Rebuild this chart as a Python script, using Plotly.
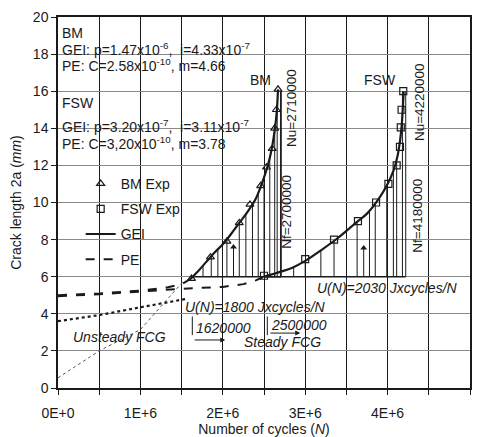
import numpy as np
import plotly.graph_objects as go

M = 1e6
# ---- data (N in millions of cycles, crack length 2a in mm) ----
bm_exp_N = [1.62, 1.85, 2.05, 2.20, 2.33, 2.46, 2.53, 2.60, 2.63, 2.65, 2.67]
bm_exp_a = [5.9, 7.05, 7.9, 8.9, 9.9, 10.9, 11.9, 12.9, 14.0, 15.0, 16.1]
bm_gei_N = [1.60, 1.70, 1.80, 1.90, 2.00, 2.10, 2.20, 2.30, 2.40, 2.48, 2.54, 2.59, 2.63, 2.655, 2.67]
bm_gei_a = [5.85, 6.3, 6.8, 7.3, 7.75, 8.3, 8.9, 9.5, 10.2, 11.1, 11.9, 12.8, 13.9, 14.9, 16.1]

fsw_exp_N = [2.50, 3.00, 3.35, 3.64, 3.86, 4.01, 4.11, 4.15, 4.16, 4.17, 4.19]
fsw_exp_a = [6.05, 6.95, 8.0, 9.0, 10.0, 11.0, 12.0, 13.0, 14.05, 15.0, 16.0]
fsw_gei_N = [2.50, 2.65, 2.85, 3.00, 3.20, 3.40, 3.60, 3.75, 3.90, 4.00, 4.07, 4.12, 4.15, 4.17, 4.185, 4.195]
fsw_gei_a = [6.0, 6.2, 6.5, 6.85, 7.45, 8.1, 8.85, 9.4, 10.25, 11.0, 11.7, 12.5, 13.3, 14.1, 15.1, 16.0]

pe_bm_N = [0, 0.5, 1.0, 1.3, 1.5, 1.6]
pe_bm_a = [5.0, 5.1, 5.25, 5.4, 5.6, 5.85]
pe_fsw_N = [0, 0.5, 1.0, 1.5, 2.0, 2.25, 2.4, 2.5]
pe_fsw_a = [4.95, 5.05, 5.2, 5.35, 5.45, 5.6, 5.8, 6.0]

dot_N = [0, 0.5, 1.0, 1.5, 1.55]
dot_a = [3.6, 3.93, 4.35, 4.75, 4.8]
thin_N = [0, 0.5, 1.0, 1.25, 1.52]
thin_a = [0.55, 2.0, 3.15, 4.4, 5.75]

bm_hatch_N = [1.62, 1.76, 1.86, 1.94, 2.05, 2.20, 2.28, 2.36, 2.43, 2.50, 2.57, 2.63, 2.66]
fsw_hatch_N = [2.50, 2.63, 2.86, 3.00, 3.19, 3.35, 3.63, 3.78, 3.85, 3.99, 4.07, 4.11]
base_a = 6.0
bm_Nf, bm_Nu = 2.70, 2.71
fsw_Nf, fsw_Nu = 4.18, 4.22
top_a = 16.0
ni_N = [2.13, 3.71]
ni_a = [7.6, 7.55]

x_ticks = [0, 1, 2, 3, 4, 5]
x_ticklabels = ["0E+0", "1E+6", "2E+6", "3E+6", "4E+6", "5E+6"]

INK = "#1a1a1a"
fig = go.Figure()

def vlines(xs, y0s, y1s):
    X, Y = [], []
    for x, a, b in zip(xs, y0s, y1s):
        X += [x * M, x * M, None]
        Y += [a, b, None]
    return X, Y

# hatch lines
hx = bm_hatch_N + [bm_Nf, bm_Nu]
hy1 = list(np.interp(bm_hatch_N, bm_gei_N, bm_gei_a)) + [top_a, top_a]
X, Y = vlines(hx, [base_a] * len(hx), hy1)
fx = fsw_hatch_N + [fsw_Nf, fsw_Nu]
fy1 = list(np.interp(fsw_hatch_N, fsw_gei_N, fsw_gei_a)) + [top_a, top_a]
X2, Y2 = vlines(fx, [base_a] * len(fx), fy1)
X3, Y3 = vlines(ni_N, [base_a] * 2, ni_a)
fig.add_trace(go.Scatter(x=X + X2 + X3, y=Y + Y2 + Y3, mode="lines",
                         line=dict(color=INK, width=1), showlegend=False, hoverinfo="skip"))
# base lines
fig.add_trace(go.Scatter(x=[bm_exp_N[0] * M, bm_Nu * M, None, fsw_exp_N[0] * M, fsw_Nu * M],
                         y=[base_a, base_a, None, base_a, base_a], mode="lines",
                         line=dict(color=INK, width=1.5), showlegend=False, hoverinfo="skip"))

# dotted lines
fig.add_trace(go.Scatter(x=[v * M for v in dot_N], y=dot_a, mode="lines",
                         line=dict(color=INK, width=2.2, dash="dot"), showlegend=False))
fig.add_trace(go.Scatter(x=[v * M for v in thin_N], y=thin_a, mode="lines",
                         line=dict(color="#555", width=1, dash="dot"), showlegend=False))

# PE
fig.add_trace(go.Scatter(x=[v * M for v in pe_bm_N], y=pe_bm_a, mode="lines", name="PE",
                         legendgroup="d", legendrank=4,
                         line=dict(color=INK, width=2, dash="dash")))
fig.add_trace(go.Scatter(x=[v * M for v in pe_fsw_N], y=pe_fsw_a, mode="lines", showlegend=False,
                         line=dict(color=INK, width=2, dash="dash")))
# GEI
fig.add_trace(go.Scatter(x=[v * M for v in bm_gei_N], y=bm_gei_a, mode="lines", name="GEI",
                         legendgroup="c", legendrank=3, line_shape="spline",
                         line=dict(color=INK, width=2.2)))
fig.add_trace(go.Scatter(x=[v * M for v in fsw_gei_N], y=fsw_gei_a, mode="lines", showlegend=False,
                         line_shape="spline", line=dict(color=INK, width=2.2)))
# Experimental
fig.add_trace(go.Scatter(x=[v * M for v in bm_exp_N], y=bm_exp_a, mode="markers", name="BM Exp",
                         legendgroup="a", legendrank=1,
                         marker=dict(symbol="triangle-up-open", size=7, color=INK, line=dict(width=1.2))))
fig.add_trace(go.Scatter(x=[v * M for v in fsw_exp_N], y=fsw_exp_a, mode="markers", name="FSW Exp",
                         legendgroup="b", legendrank=2,
                         marker=dict(symbol="square-open", size=7, color=INK, line=dict(width=1.2))))
# initiation markers
fig.add_trace(go.Scatter(x=[v * M for v in ni_N], y=ni_a, mode="markers", showlegend=False,
                         marker=dict(symbol="triangle-up", size=6, color=INK)))

F = "Liberation Sans, Arial, sans-serif"
ann = []
def txt(x, y, s, xa="left", size=14, ang=0, it=False):
    if it:
        s = "<i>" + s + "</i>"
    ann.append(dict(x=x * M, y=y, text=s, showarrow=False, xanchor=xa, yanchor="middle",
                    textangle=ang, font=dict(family=F, size=size, color=INK)))

txt(0.03, 19.15, "BM")
txt(0.03, 18.25, "GEI: p=1.47x10<sup>-6</sup>,  i=4.33x10<sup>-7</sup>")
txt(0.03, 17.4, "PE: C=2.58x10<sup>-10</sup>, m=4.66")
txt(0.03, 15.35, "FSW")
txt(0.03, 14.1, "GEI: p=3.20x10<sup>-7</sup>,  i=3.11x10<sup>-7</sup>")
txt(0.03, 13.2, "PE: C=3,20x10<sup>-10</sup>, m=3.78")
txt(2.46, 16.6, "BM", xa="center")
txt(3.91, 16.6, "FSW", xa="center")
txt(2.84, 15.1, "Nu=2710000", xa="center", ang=-90, size=13.5)
txt(2.78, 9.5, "Nf=2700000", xa="center", ang=-90, size=13.5)
txt(4.39, 15.4, "Nu=4220000", xa="center", ang=-90, size=13.5)
txt(4.36, 9.3, "Nf=4180000", xa="center", ang=-90, size=13.5)
txt(2.40, 4.37, "U(N)=1800 Jxcycles/N", xa="center", it=True)
txt(4.00, 5.39, "U(N)=2030 Jxcycles/N", xa="center", it=True)
txt(1.645, 3.25, "1620000", it=True)
txt(2.56, 3.42, "2500000", it=True)
txt(2.73, 2.48, "Steady FCG", xa="center", it=True)
txt(0.75, 2.75, "Unsteady FCG", xa="center", it=True)
for (x0, x1, y) in [(1.64, 2.03, 2.59), (2.56, 2.94, 2.96)]:
    ann.append(dict(x=x1 * M, y=y, ax=x0 * M, ay=y, axref="x", ayref="y", xref="x", yref="y",
                    text="", showarrow=True, arrowhead=2, arrowsize=1, arrowwidth=1, arrowcolor=INK))

shapes = []
for xb in [1.63, 2.54]:
    shapes.append(dict(type="line", x0=xb * M, x1=xb * M, y0=2.85, y1=3.85,
                       line=dict(color=INK, width=1)))

fig.update_layout(
    width=484, height=437, margin=dict(l=58, r=14, t=17, b=49),
    paper_bgcolor="white", plot_bgcolor="white",
    font=dict(family=F, size=14, color=INK),
    annotations=ann, shapes=shapes,
    legend=dict(x=0.055, y=0.593, xanchor="left", yanchor="top", bgcolor="rgba(0,0,0,0)",
                itemwidth=30, tracegroupgap=4, font=dict(size=14, family=F)),
    xaxis=dict(range=[0, 5 * M], tickvals=[v * M for v in x_ticks], ticktext=x_ticklabels,
               showgrid=True, gridcolor=INK, gridwidth=1.2, automargin=False,
               minor=dict(dtick=0.5 * M, tick0=0, showgrid=True, gridcolor=INK, gridwidth=1.2,
                          ticks="outside", ticklen=5, tickcolor=INK),
               ticks="outside", ticklen=5, tickcolor=INK, ticklabelstandoff=6,
               showline=True, linecolor=INK, linewidth=1.5, mirror=True, zeroline=False,
               title=dict(text="Number of cycles (<i>N</i>)", standoff=3, font=dict(size=14)),
               tickfont=dict(size=14)),
    yaxis=dict(range=[0, 20], dtick=2, showgrid=True, gridcolor="#8a8a8a", gridwidth=1.3,
               ticks="outside", ticklen=5, tickcolor=INK, automargin=False,
               showline=True, linecolor=INK, linewidth=1.5, mirror=True, zeroline=False,
               title=dict(text="Crack length 2a (<i>mm</i>)", standoff=8, font=dict(size=14)),
               tickfont=dict(size=14)),
)

fig.write_html("out.html")
